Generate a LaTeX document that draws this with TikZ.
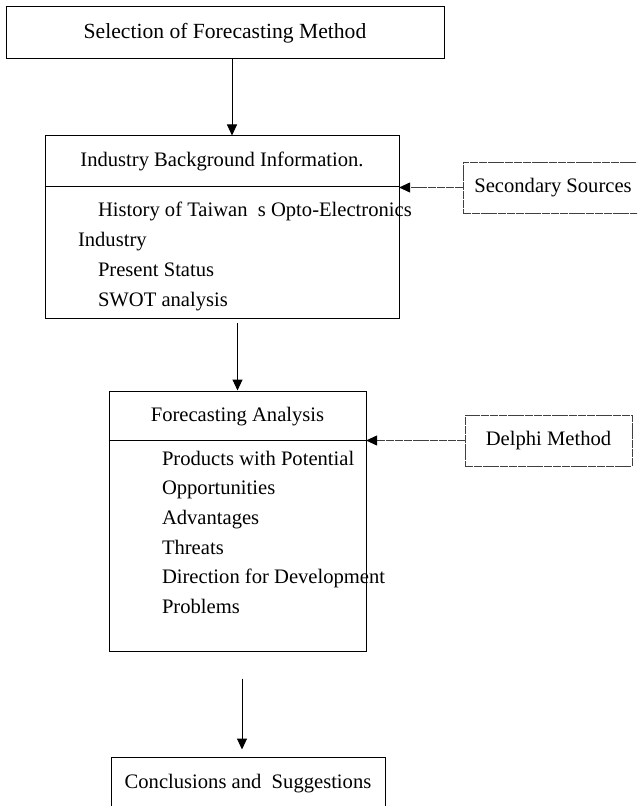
\documentclass[tikz,border=0pt]{standalone}
\usepackage{fontspec}
\setmainfont{Liberation Serif}
\usepackage{tikz}
\usetikzlibrary{calc}
\usetikzlibrary{positioning}
\usetikzlibrary{arrows.meta}

\begin{document}
\begin{tikzpicture}[->,>={Triangle[length=5.5pt,width=5pt]},x=0.5pt,y=-0.5pt,line width=0.5pt,
	  font=\fontsize{10.3}{15}\selectfont,
	  box/.style={rectangle,draw,inner sep=0pt},
	  source/.style={rectangle,draw=black!75,line width=0.45pt,dash pattern=on 4pt off 0.4pt,inner sep=0pt},
	  source line/.style={draw=black!75,line width=0.45pt,dash pattern=on 4pt off 0.4pt,
	  	-{Triangle[length=5.5pt,width=5pt,black,sep=-0.2pt]}},
	  item/.style={anchor=base west,inner sep=0pt}]

	  \useasboundingbox (0,0) rectangle (637,806);
	  \clip (0,0) rectangle (637,806);

	  \node[box, minimum width=219pt, minimum height=26pt] (sel) at (225,33) {\fontsize{10.8}{15}\selectfont Selection of Forecasting Method};
	  \node[box, minimum width=177pt, minimum height=91.5pt] (ind) at (222,227.5) {};
	  \node[box, minimum width=128.5pt, minimum height=130pt] (fore) at (237.5,521) {};
	  \node[box, minimum width=137pt, minimum height=27pt] (concl) at (248,784) {Conclusions and\ \ Suggestions};
	  \node[source, minimum width=90pt, minimum height=25.5pt] (sec) at (553,187.5) {Secondary Sources};
	  \node[source, minimum width=83.5pt, minimum height=25.5pt] (delphi) at (548.5,440.5) {Delphi Method};

	  % industry box
	  \node (indtitle) at ($ (ind.north) + (0,26) $) {Industry Background Information.};
	  \draw[-] ($ (ind.north west) + (0,51) $) -- ($ (ind.north east) + (0,51) $);
	  \node[item] (hist) at ($ (ind.north west) + (53,81) $) {History of Taiwan\ \ s Opto-Electronics};
	  \node[item] (indu) at ($ (ind.north west) + (33,111) $) {Industry};
	  \node[item] (pres) at ($ (ind.north west) + (53,141) $) {Present Status};
	  \node[item] (swot) at ($ (ind.north west) + (53,171) $) {SWOT analysis};

	  % forecasting box
	  \node (foretitle) at ($ (fore.north) + (0,26) $) {Forecasting Analysis};
	  \draw[-] ($ (fore.north west) + (0,50) $) -- ($ (fore.north east) + (0,50) $);
	  \node[item] (prod) at ($ (fore.north west) + (53,75) $) {Products with Potential};
	  \node[item] (opp) at ($ (fore.north west) + (53,104) $) {Opportunities};
	  \node[item] (adv) at ($ (fore.north west) + (53,134) $) {Advantages};
	  \node[item] (thr) at ($ (fore.north west) + (53,164) $) {Threats};
	  \node[item] (dir) at ($ (fore.north west) + (53,193) $) {Direction for Development};
	  \node[item] (prob) at ($ (fore.north west) + (53,223) $) {Problems};

	  \path
	  	($ (sel.south) + (7,0) $)	edge 	($ (ind.north) + (10,0) $)
	  	($ (ind.south) + (15.5,4) $)	edge 	(fore.north)
	  	($ (fore.south) + (4.5,27) $)	edge[shorten >=3.5pt] 	($ (concl.north) + (-6,0) $)
	  	(sec.west)	edge[source line] 	(sec.west -| ind.east)
	  	(delphi.west)	edge[source line] 	(delphi.west -| fore.east);
\end{tikzpicture}
\end{document}
